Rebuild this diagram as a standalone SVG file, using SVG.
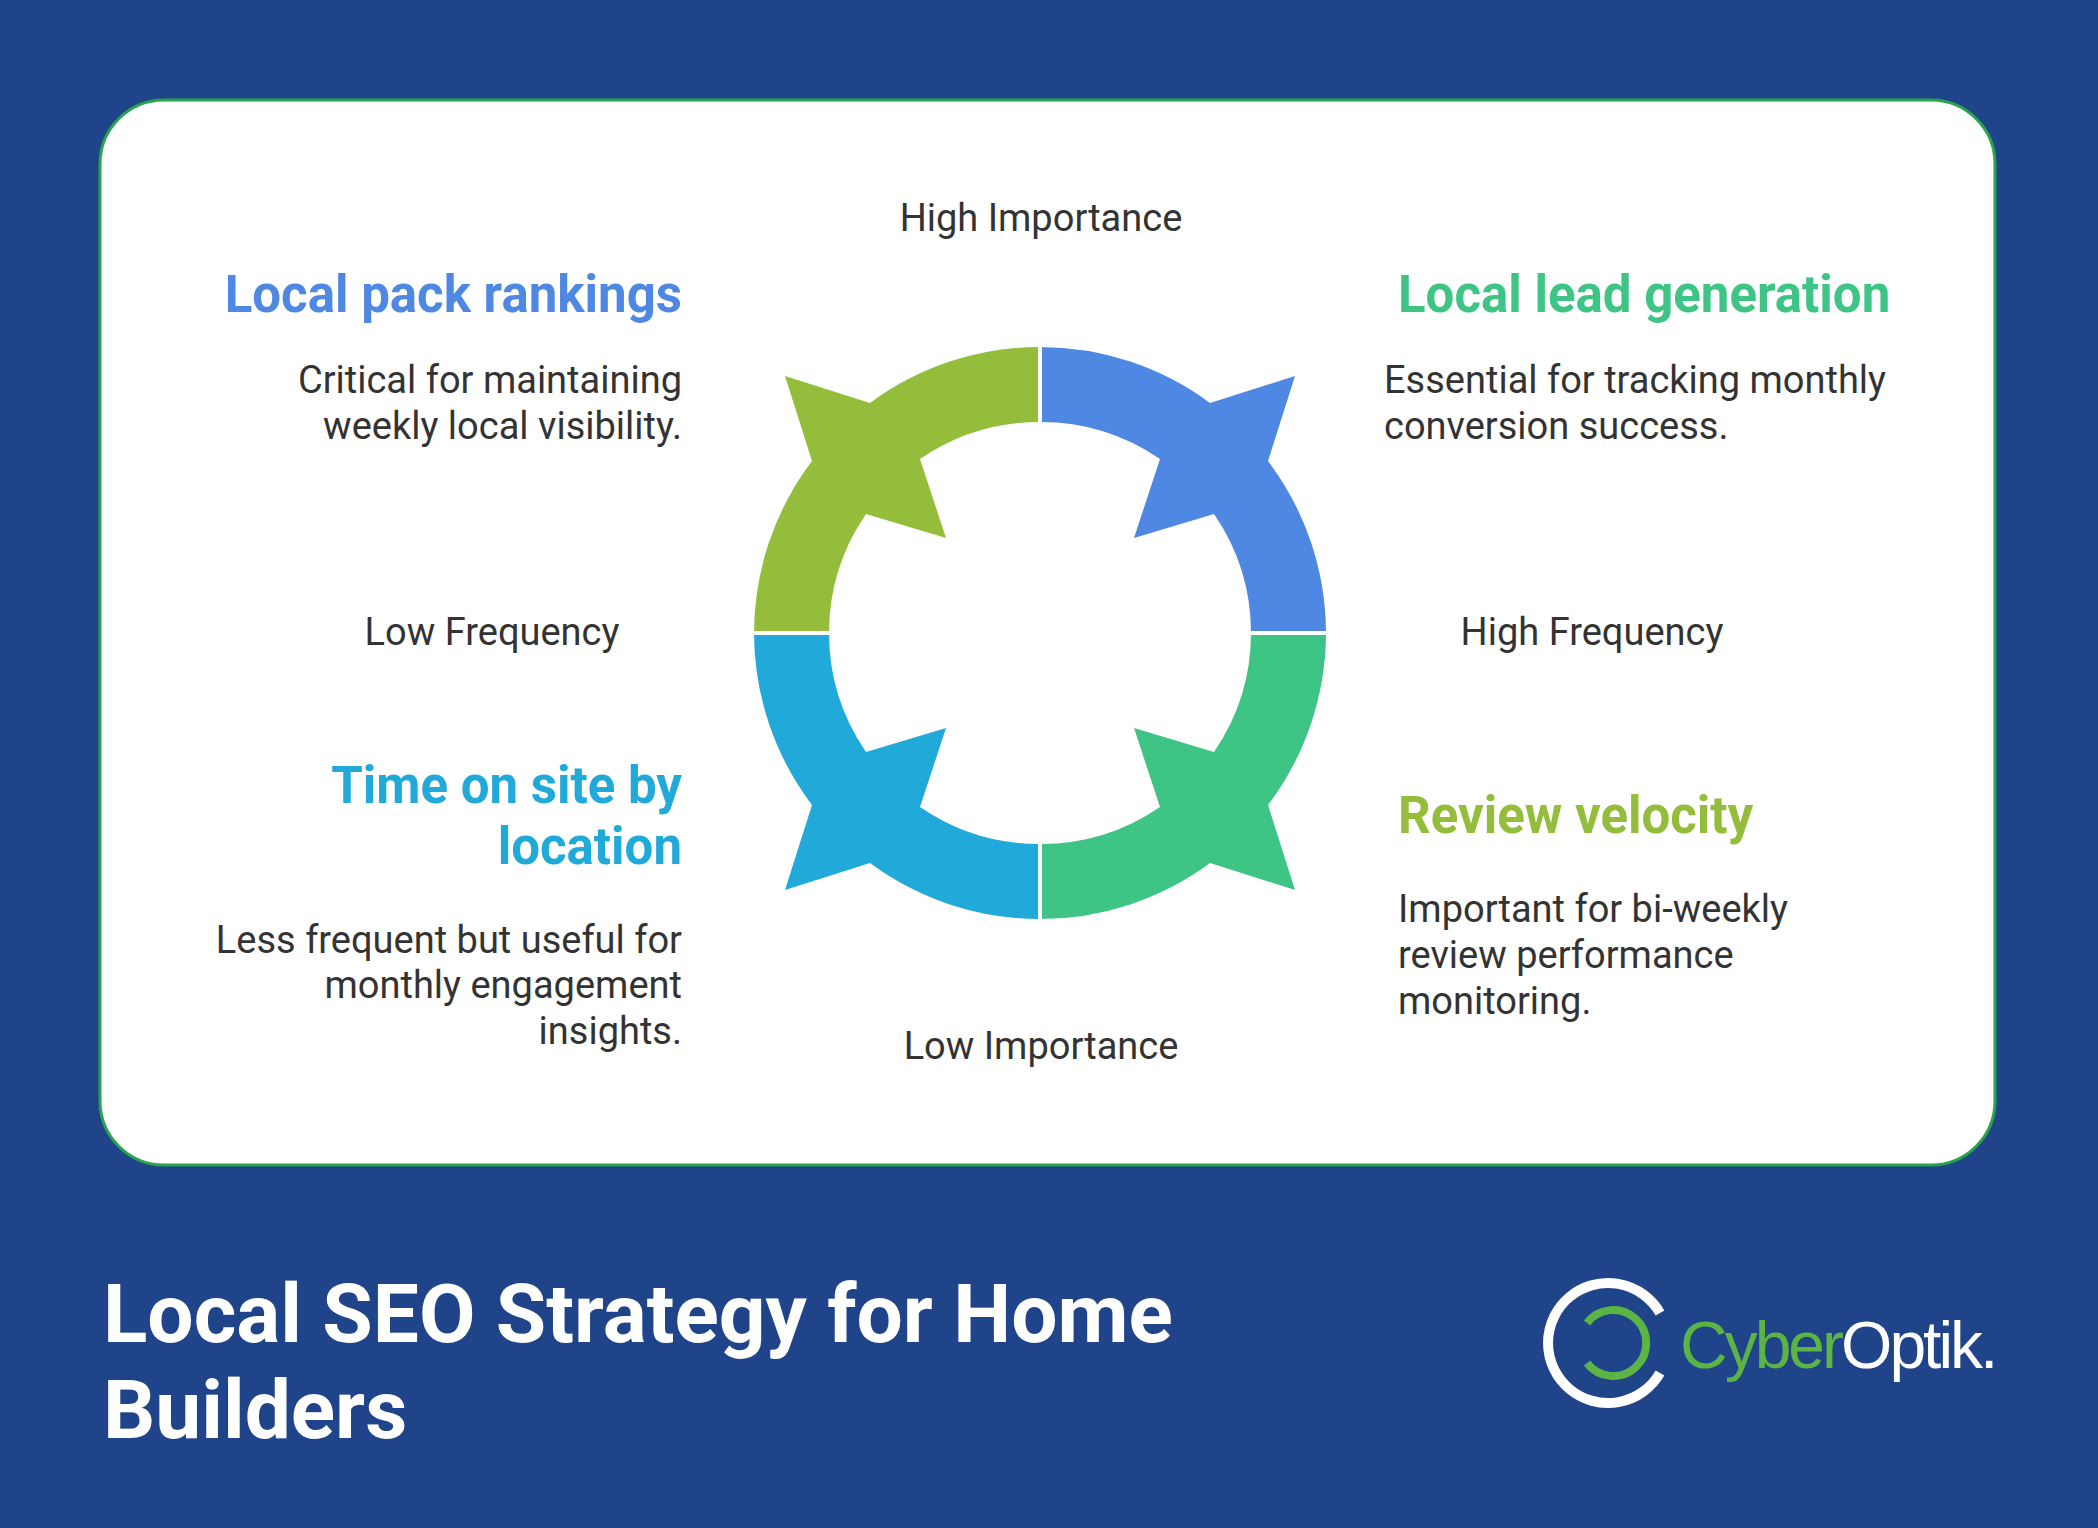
<svg xmlns="http://www.w3.org/2000/svg" width="2098" height="1528" viewBox="0 0 2098 1528">
<style>
.ax{font-family:Roboto,"Liberation Sans",sans-serif;font-size:38px;fill:#333;text-anchor:middle}
.t{font-family:Roboto,"Liberation Sans",sans-serif;font-size:51px;font-weight:bold}
.d{font-family:Roboto,"Liberation Sans",sans-serif;font-size:38px;fill:#333}
.r{text-anchor:end}
</style>
<defs>
<path id="seg" d="M1040,347 A286,286 0 0 0 870,403 L785,376 L812,461 A286,286 0 0 0 754,633 L829,633 A211,211 0 0 1 866,514 L946,538 L920,459 A211,211 0 0 1 1040,422 Z"/>
</defs>
<rect width="2098" height="1528" fill="#204489"/>
<rect x="100" y="100" width="1895" height="1065" rx="64" fill="#fff" stroke="#27A54A" stroke-width="3"/>
<g id="ring">
<use href="#seg" fill="#93BD3A"/>
<use href="#seg" fill="#4F88E3" transform="translate(2080,0) scale(-1,1)"/>
<use href="#seg" fill="#21AAD9" transform="translate(0,1266) scale(1,-1)"/>
<use href="#seg" fill="#3EC484" transform="translate(2080,1266) scale(-1,-1)"/>
<g stroke="#fff" stroke-width="4"><line x1="1040" y1="340" x2="1040" y2="926"/><line x1="747" y1="633" x2="1333" y2="633"/></g>
</g>
<g id="axes">
<text class="ax" x="1041" y="231">High Importance</text>
<text class="ax" x="1041" y="1059">Low Importance</text>
<text class="ax" x="492" y="645">Low Frequency</text>
<text class="ax" x="1592" y="645">High Frequency</text>
</g>
<g id="n1"><text class="t r" x="682" y="312" fill="#4F88E3">Local pack rankings</text>
<text class="d r" x="682" y="393">Critical for maintaining</text><text class="d r" x="682" y="439">weekly local visibility.</text></g>
<g id="n2"><text class="t" x="1398" y="312" fill="#3EC484">Local lead generation</text>
<text class="d" x="1384" y="393">Essential for tracking monthly</text><text class="d" x="1384" y="439">conversion success.</text></g>
<g id="n3"><text class="t r" x="682" y="803" fill="#21AAD9">Time on site by</text><text class="t r" x="682" y="864" fill="#21AAD9">location</text>
<text class="d r" x="682" y="953">Less frequent but useful for</text><text class="d r" x="682" y="998">monthly engagement</text><text class="d r" x="682" y="1044">insights.</text></g>
<g id="n4"><text class="t" x="1398" y="833" fill="#93BD3A">Review velocity</text>
<text class="d" x="1398" y="922">Important for bi-weekly</text><text class="d" x="1398" y="968">review performance</text><text class="d" x="1398" y="1014">monitoring.</text></g>
<g id="title" font-family="Roboto,'Liberation Sans',sans-serif" font-size="82" font-weight="bold" fill="#fff">
<text x="103" y="1342">Local SEO Strategy for Home</text><text x="103" y="1438">Builders</text></g>
<g id="logo">
<path d="M1660,1313 A60,60 0 1 0 1660,1373" fill="none" stroke="#fff" stroke-width="10"/>
<path d="M1587,1323 A33,33 0 1 1 1587,1363" fill="none" stroke="#5BB443" stroke-width="8"/>
<text x="1680" y="1368" font-family="'Liberation Sans',Arial,sans-serif" font-size="66" letter-spacing="-3"><tspan fill="#5BB443">Cyber</tspan><tspan fill="#fff">Optik.</tspan></text>
</g>
</svg>
